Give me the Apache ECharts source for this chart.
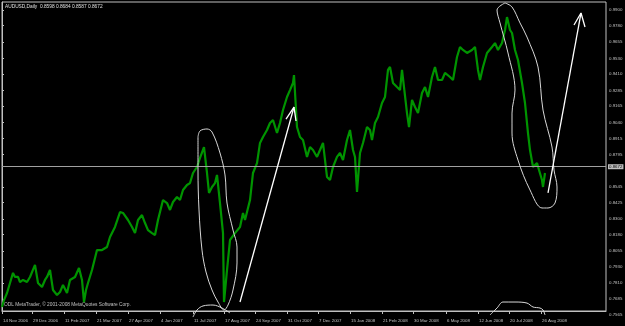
<!DOCTYPE html>
<html>
<head>
<meta charset="utf-8">
<script src="https://cdn.jsdelivr.net/npm/echarts@6/dist/echarts.min.js"></script>
<style>
  html, body { margin: 0; padding: 0; background: #000; }
  #chart { width: 625px; height: 326px; }
</style>
</head>
<body>
<div id="chart"></div>
<script>
// bar index (1 px per daily bar) and price
var bars = [0, 2, 5, 8, 11, 13, 16, 18, 21, 25, 28, 30, 33, 36, 40, 43, 45, 48, 51, 55,
  58, 61, 65, 68, 73, 77, 80, 82, 84, 86, 90, 95, 100, 105, 108, 113, 118, 121, 126, 130,
  133, 136, 140, 143, 146, 150, 153, 156, 161, 165, 168, 171, 175, 178, 181, 185, 188, 191, 195, 198,
  202, 205, 207, 210, 213, 215, 218, 221, 222, 225, 228, 233, 238, 241, 243, 248, 251, 255, 258, 261,
  265, 268, 271, 275, 278, 281, 285, 288, 291, 292, 295, 298, 301, 305, 308, 311, 315, 318, 321, 325,
  328, 331, 335, 338, 341, 345, 348, 351, 353, 355, 358, 361, 365, 368, 370, 373, 376, 380, 383, 386,
  388, 391, 395, 398, 400, 402, 405, 407, 410, 413, 416, 420, 423, 426, 430, 433, 436, 440, 443, 448,
  451, 455, 458, 461, 465, 470, 473, 476, 478, 481, 485, 490, 493, 496, 500, 503, 505, 508, 510, 513,
  516, 520, 523, 526, 528, 531, 535, 537, 540, 541, 543];
var prices = [0.7626, 0.7679, 0.7733, 0.7810, 0.7887, 0.7856, 0.7856, 0.7817, 0.7833, 0.7817, 0.7856, 0.7848, 0.7948, 0.7810, 0.7779, 0.7833, 0.7856, 0.7909, 0.7756, 0.7718,
  0.7741, 0.7795, 0.7733, 0.7833, 0.7856, 0.7925, 0.7833, 0.7664, 0.7756, 0.7810, 0.7909, 0.8062, 0.8062, 0.8085, 0.8162, 0.8239, 0.8353, 0.8346, 0.8292, 0.8239,
  0.8192, 0.8292, 0.8330, 0.8269, 0.8215, 0.8192, 0.8177, 0.8292, 0.8445, 0.8422, 0.8369, 0.8430, 0.8468, 0.8445, 0.8522, 0.8560, 0.8575, 0.8652, 0.8698, 0.8767,
  0.8851, 0.8652, 0.8499, 0.8545, 0.8575, 0.8637, 0.8422, 0.8192, 0.7664, 0.7909, 0.8139, 0.8192, 0.8239, 0.8346, 0.8292, 0.8445, 0.8652, 0.8728, 0.8882, 0.8928,
  0.8981, 0.9035, 0.9058, 0.8958, 0.9035, 0.9134, 0.9234, 0.9287, 0.9341, 0.9402, 0.9004, 0.8928, 0.8905, 0.8775, 0.8851, 0.8828, 0.8775, 0.8828, 0.8882, 0.8622,
  0.8598, 0.8698, 0.8775, 0.8805, 0.8751, 0.8905, 0.8981, 0.8828, 0.8775, 0.8507, 0.8805, 0.8882, 0.9004, 0.8981, 0.8905, 0.9035, 0.9081, 0.9188, 0.9234, 0.9441,
  0.9464, 0.9341, 0.9310, 0.9287, 0.9441, 0.9310, 0.9111, 0.9004, 0.9211, 0.9157, 0.9111, 0.9264, 0.9310, 0.9234, 0.9387, 0.9464, 0.9364, 0.9364, 0.9418, 0.9387,
  0.9364, 0.9540, 0.9617, 0.9594, 0.9571, 0.9594, 0.9617, 0.9441, 0.9364, 0.9464, 0.9571, 0.9617, 0.9647, 0.9594, 0.9647, 0.9747, 0.9846, 0.9747, 0.9724, 0.9594,
  0.9517, 0.9341, 0.9188, 0.8958, 0.8828, 0.8698, 0.8728, 0.8675, 0.8598, 0.8545, 0.8652];

var lastPrice = 0.8672;
var priceTicks = [0.9900, 0.9780, 0.9655, 0.9530, 0.9410, 0.9285, 0.9165, 0.9040, 0.8915, 0.8795,
  0.8545, 0.8425, 0.8300, 0.8180, 0.8055, 0.7930, 0.7810, 0.7685];
var bottomTick = '0.7565';

var dateTicks = [0, 30, 62, 94, 126, 158, 191, 222, 253, 285, 316, 348, 380, 411, 444, 476, 507, 539];
var dateLabels = ['14 Nov 2006', '29 Dec 2006', '11 Feb 2007', '21 Mar 2007', '27 Apr 2007', '4 Jun 2007',
  '11 Jul 2007', '17 Aug 2007', '24 Sep 2007', '31 Oct 2007', '7 Dec 2007', '15 Jan 2008',
  '21 Feb 2008', '30 Mar 2008', '6 May 2008', '12 Jun 2008', '20 Jul 2008', '26 Aug 2008'];

// hand drawn annotations, in [bar, price]
var loopAug07 = [[196, 0.8928], [198, 0.8974], [205, 0.8989], [210, 0.8966], [218, 0.8805], [223, 0.8637],
  [225, 0.8422], [231, 0.8215], [235, 0.8085], [235, 0.7963], [231, 0.7756], [226, 0.7641], [222, 0.7603],
  [216, 0.7664], [210, 0.7756], [204, 0.7894], [200, 0.8062], [197, 0.8369], [196, 0.8675], [196, 0.8928]];
var arcAug07 = [[191, 0.7549], [195, 0.7603], [201, 0.7634], [211, 0.7641], [220, 0.7618], [228, 0.7580]];
var arrowAug07 = [[238, 0.7664], [292, 0.9157]];
var headAug07 = [[284, 0.9065], [292, 0.9157], [294, 0.9050]];

var loopJul08 = [[503, 0.9954], [495, 0.9900], [498, 0.9801], [506, 0.9571], [513, 0.9287], [510, 0.9111],
  [510, 0.8958], [516, 0.8751], [528, 0.8522], [540, 0.8384], [546, 0.8384], [553, 0.8422], [555, 0.8545],
  [552, 0.8675], [550, 0.8851], [541, 0.9134], [536, 0.9464], [525, 0.9693], [518, 0.9801], [510, 0.9923], [503, 0.9954]];
var arcJul08 = [[488, 0.7565], [495, 0.7618], [501, 0.7664], [513, 0.7664], [525, 0.7656], [531, 0.7626],
  [538, 0.7618], [541, 0.7603], [543, 0.7565]];
var arrowSep08 = [[546, 0.8499], [579, 0.9877]];
var headSep08 = [[572, 0.9785], [579, 0.9877], [583, 0.9770]];

var chart = echarts.init(document.getElementById('chart'));

function sketch(points, width, color, smooth) {
  return {
    type: 'line',
    data: points,
    symbol: 'none',
    smooth: smooth || false,
    clip: false,
    silent: true,
    lineStyle: { color: color, width: width },
    z: 5
  };
}

var axisFont = 'Liberation Sans';
var gridColor = '#c0c0c0';

var option = {
  backgroundColor: '#000',
  animation: false,
  grid: {
    left: 2, right: 19, top: 2, bottom: 15,
    show: true,
    backgroundColor: '#000',
    borderColor: gridColor,
    borderWidth: 1,
    containLabel: false,
    outerBoundsMode: 'none'
  },
  xAxis: {
    type: 'value',
    min: 0,
    max: 604,
    splitLine: { show: false },
    axisLine: { show: true, lineStyle: { color: gridColor, width: 1 } },
    axisTick: { show: true, customValues: dateTicks, length: 3, lineStyle: { color: gridColor } },
    axisLabel: {
      customValues: dateTicks,
      formatter: function (v) { return dateLabels[dateTicks.indexOf(v)] || ''; },
      color: gridColor,
      fontFamily: axisFont,
      fontSize: 4.4,
      align: 'left',
      margin: 8,
      padding: [0, 0, 0, 1]
    }
  },
  yAxis: {
    type: 'value',
    position: 'right',
    min: 0.75953,
    max: 0.99613,
    scale: true,
    splitLine: { show: false },
    axisLine: { show: true, lineStyle: { color: gridColor, width: 1 } },
    axisTick: { show: true, customValues: priceTicks, length: 2, inside: false, lineStyle: { color: gridColor } },
    axisLabel: {
      customValues: priceTicks,
      formatter: function (v) { return v.toFixed(4); },
      color: gridColor,
      fontFamily: axisFont,
      fontSize: 4.4,
      margin: 3
    }
  },
  graphic: [
    { type: 'text', left: 5, top: 4, style: { text: 'AUDUSD,Daily  0.8598 0.8684 0.8587 0.8672', fill: '#e0e0e0', font: '4.8px Liberation Sans' } },
    { type: 'text', left: 4, top: 302, style: { text: 'ODL MetaTrader, \u00a9 2001-2008 MetaQuotes Software Corp.', fill: '#c0c0c0', font: '4.8px Liberation Sans' } },
    { type: 'text', left: 609, top: 313, style: { text: bottomTick, fill: gridColor, font: '4.4px Liberation Sans' } }
  ],
  series: [
    {
      name: 'AUDUSD',
      type: 'line',
      data: bars.map(function (b, i) { return [b, prices[i]]; }),
      symbol: 'none',
      lineStyle: { color: '#009400', width: 2.2 },
      z: 3,
      markLine: {
        silent: true,
        symbol: ['none', 'none'],
        lineStyle: { color: '#a0a0a0', width: 1, type: 'solid' },
        label: {
          position: 'end',
          distance: 2,
          formatter: lastPrice.toFixed(4),
          color: '#000',
          backgroundColor: '#c0c0c0',
          fontFamily: axisFont,
          fontSize: 4.4,
          padding: [1, 1, 0, 1]
        },
        data: [{ yAxis: lastPrice }]
      }
    },
    sketch(loopAug07, 1, '#d8d8d8', 0.35),
    sketch(arcAug07, 1, '#d8d8d8', 0.35),
    sketch(arrowAug07, 1.3, '#ffffff'),
    sketch(headAug07, 1.3, '#ffffff'),
    sketch(loopJul08, 1, '#d8d8d8', 0.35),
    sketch(arcJul08, 1, '#d8d8d8', 0.35),
    sketch(arrowSep08, 1.3, '#ffffff'),
    sketch(headSep08, 1.3, '#ffffff')
  ]
};

chart.setOption(option);
</script>
</body>
</html>
